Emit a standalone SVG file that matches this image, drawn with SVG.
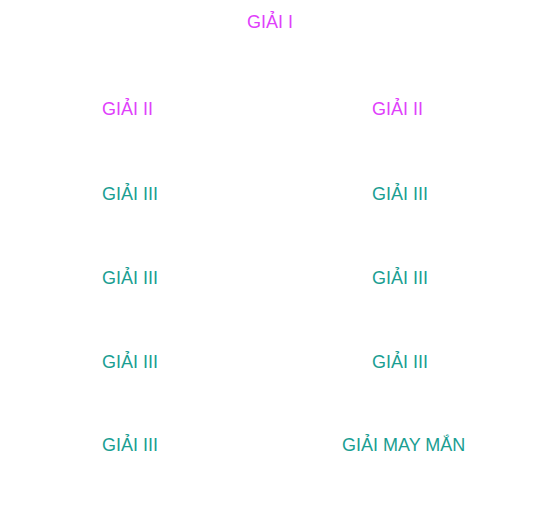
<svg xmlns="http://www.w3.org/2000/svg" width="556" height="516" viewBox="0 0 556 516">
<style>
text{font-family:"Liberation Sans",Arial,sans-serif;font-size:18px}
.p{fill:#e040fb}
.t{fill:#1a9e92}
</style>
<rect width="556" height="516" fill="#ffffff"/>
<g id="n1"><text class="p" x="270" y="28" text-anchor="middle">GIẢI I</text></g>
<g id="n2"><text class="p" x="102" y="115">GIẢI II</text></g>
<g id="n3"><text class="p" x="372" y="115">GIẢI II</text></g>
<g id="n4"><text class="t" x="102" y="200">GIẢI III</text></g>
<g id="n5"><text class="t" x="372" y="200">GIẢI III</text></g>
<g id="n6"><text class="t" x="102" y="284">GIẢI III</text></g>
<g id="n7"><text class="t" x="372" y="284">GIẢI III</text></g>
<g id="n8"><text class="t" x="102" y="368">GIẢI III</text></g>
<g id="n9"><text class="t" x="372" y="368">GIẢI III</text></g>
<g id="n10"><text class="t" x="102" y="451">GIẢI III</text></g>
<g id="n11"><text class="t" x="342" y="451">GIẢI MAY MẮN</text></g>
<g id="connectors"></g>
</svg>
